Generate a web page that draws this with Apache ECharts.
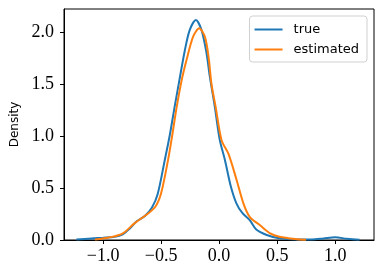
<!DOCTYPE html>
<html><head><meta charset="utf-8">
<script src="https://cdn.jsdelivr.net/npm/echarts@6/dist/echarts.min.js"></script>
<style>html,body{margin:0;padding:0;background:#fff}#c{width:383px;height:278px}</style>
</head><body><div id="c"></div>
<script>
const seriesNames = ['true', 'estimated'];
const trueX = [-1.23,-1.10,-1.00,-0.90,-0.83,-0.77,-0.71,-0.64,-0.58,-0.53,-0.47,-0.425,-0.382,-0.345,-0.296,-0.253,-0.20,-0.152,-0.109,-0.08,-0.037,0.006,0.05,0.10,0.15,0.20,0.265,0.32,0.41,0.52,0.67,0.80,0.90,1.00,1.10,1.21];
const trueY = [0.004,0.015,0.022,0.030,0.055,0.11,0.18,0.23,0.31,0.44,0.76,1.01,1.29,1.52,1.82,2.02,2.115,2.02,1.80,1.57,1.28,0.96,0.77,0.52,0.35,0.26,0.19,0.10,0.048,0.016,0.005,0.005,0.015,0.026,0.012,0.002];
const estX = [-1.07,-0.94,-0.83,-0.73,-0.63,-0.55,-0.50,-0.44,-0.405,-0.367,-0.324,-0.281,-0.224,-0.172,-0.123,-0.09,-0.066,-0.03,0.021,0.08,0.15,0.21,0.265,0.35,0.44,0.52,0.67,0.75];
const estY = [0.004,0.026,0.064,0.16,0.24,0.32,0.45,0.77,1.00,1.27,1.53,1.73,1.955,2.035,1.955,1.75,1.50,1.28,0.96,0.83,0.58,0.35,0.22,0.144,0.064,0.032,0.008,0.002];
const xTicks = [-1.0,-0.5,0.0,0.5,1.0];
const yTicks = [0.0,0.5,1.0,1.5,2.0];
const yLabel = 'Density';

const pair = (xs, ys) => xs.map((x, i) => [x, ys[i]]);
const fmt = v => (v < 0 ? '\u2212' : '') + Math.abs(v).toFixed(1);
const tickFont = {fontFamily: 'Liberation Serif', fontSize: 18, color: '#000'};

const chart = echarts.init(document.getElementById('c'), null, {renderer: 'canvas'});
chart.setOption({
  animation: false,
  grid: {left: 64, top: 9, right: 9, bottom: 38, show: true, borderColor: '#000', borderWidth: 1, backgroundColor: 'transparent'},
  xAxis: {
    type: 'value', min: -1.337, max: 1.335,
    axisLine: {show: true, onZero: false, lineStyle: {color: '#000', width: 1}},
    axisTick: {show: true, length: 4, lineStyle: {color: '#000'}, customValues: xTicks},
    axisLabel: Object.assign({margin: 7, formatter: fmt, customValues: xTicks}, tickFont),
    splitLine: {show: false}
  },
  yAxis: {
    type: 'value', min: 0, max: 2.221,
    name: yLabel, nameLocation: 'middle', nameGap: 43,
    nameTextStyle: {fontFamily: 'DejaVu Sans', fontSize: 12, color: '#000'},
    axisLine: {show: true, onZero: false, lineStyle: {color: '#000', width: 1}},
    axisTick: {show: true, length: 4, lineStyle: {color: '#000'}, customValues: yTicks},
    axisLabel: Object.assign({margin: 10, formatter: fmt, customValues: yTicks}, tickFont),
    splitLine: {show: false}
  },
  legend: {
    orient: 'vertical', right: 16, top: 16,
    data: seriesNames,
    icon: 'rect', itemWidth: 28, itemHeight: 2, itemGap: 5,
    padding: [6, 8, 5, 5],
    backgroundColor: 'rgba(255,255,255,0.8)', borderColor: '#d0d0d0', borderWidth: 1, borderRadius: 3,
    textStyle: {fontFamily: 'DejaVu Sans', fontSize: 13, color: '#000', padding: [0, 0, 0, 6], lineHeight: 15}
  },
  series: [
    {name: seriesNames[0], type: 'line', data: pair(trueX, trueY), smooth: 0.3, showSymbol: false, symbol: 'none', lineStyle: {color: '#1f77b4', width: 2}, itemStyle: {color: '#1f77b4'}},
    {name: seriesNames[1], type: 'line', data: pair(estX, estY), smooth: 0.3, showSymbol: false, symbol: 'none', lineStyle: {color: '#ff7f0e', width: 2}, itemStyle: {color: '#ff7f0e'}}
  ]
});
</script></body></html>
